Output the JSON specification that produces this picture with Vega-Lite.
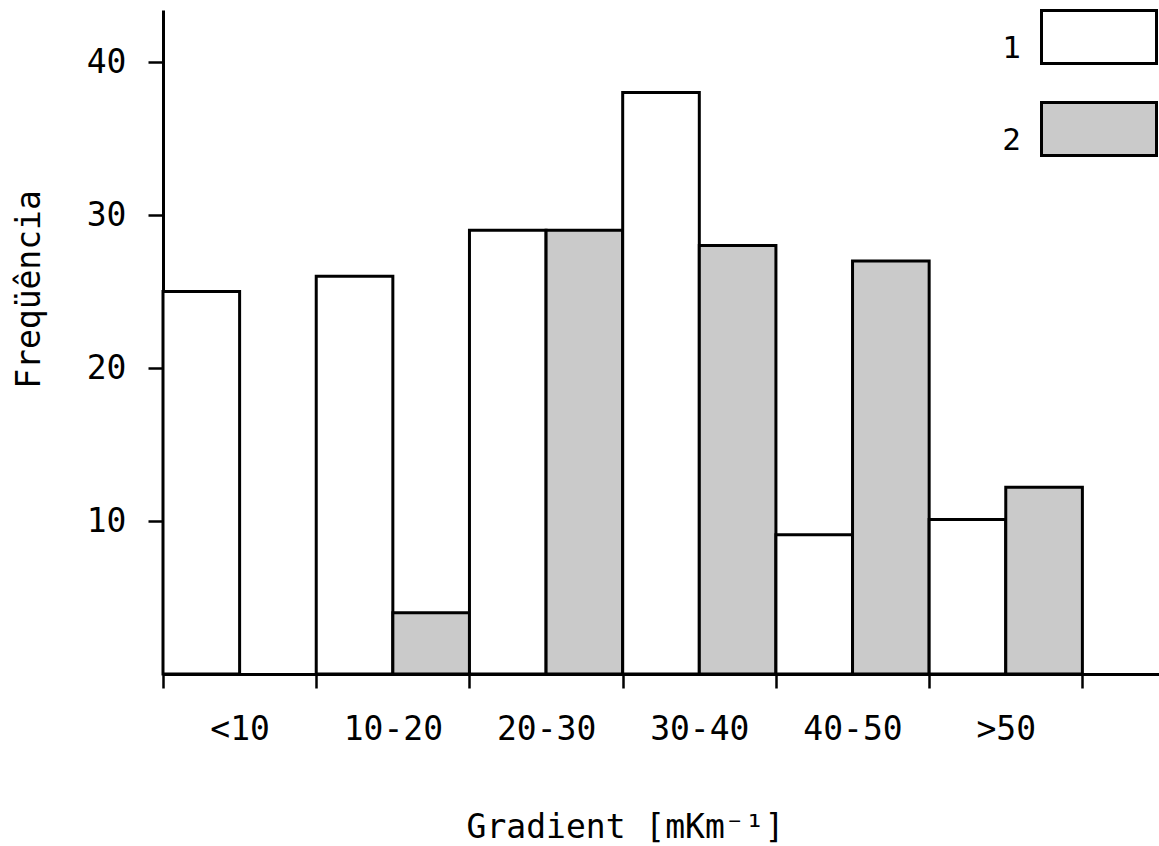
{
  "$schema": "https://vega.github.io/schema/vega-lite/v6.json",
  "width": 996,
  "height": 664,
  "autosize": {"type": "none"},
  "padding": {"left": 163, "top": 10, "right": 0, "bottom": 172},
  "background": "white",
  "config": {"view": {"stroke": null}, "font": "DejaVu Sans Mono"},
  "data": {
    "values": [
      {"gradient": "<10", "serie": "1", "freq": 25},
      {"gradient": "10-20", "serie": "1", "freq": 26},
      {"gradient": "10-20", "serie": "2", "freq": 4},
      {"gradient": "20-30", "serie": "1", "freq": 29},
      {"gradient": "20-30", "serie": "2", "freq": 29},
      {"gradient": "30-40", "serie": "1", "freq": 38},
      {"gradient": "30-40", "serie": "2", "freq": 28},
      {"gradient": "40-50", "serie": "1", "freq": 9.1},
      {"gradient": "40-50", "serie": "2", "freq": 27},
      {"gradient": ">50", "serie": "1", "freq": 10.1},
      {"gradient": ">50", "serie": "2", "freq": 12.2}
    ]
  },
  "mark": {"type": "bar", "stroke": "black", "strokeWidth": 3, "strokeJoin": "miter"},
  "encoding": {
    "x": {
      "field": "gradient",
      "type": "nominal",
      "sort": ["<10", "10-20", "20-30", "30-40", "40-50", ">50"],
      "scale": {"paddingInner": 0, "paddingOuter": 0.25, "align": 0},
      "axis": {
        "title": "Gradient [mKm⁻¹]",
        "labelAngle": 0,
        "tickBand": "extent",
        "domainColor": "black",
        "domainWidth": 3,
        "tickColor": "black",
        "tickWidth": 2.5,
        "tickSize": 14,
        "labelFont": "DejaVu Sans Mono",
        "labelFontSize": 33,
        "labelColor": "black",
        "labelPadding": 25,
        "labelOverlap": false,
        "labelBound": false,
        "titleFont": "DejaVu Sans Mono",
        "titleFontSize": 33,
        "titleFontWeight": "normal",
        "titleColor": "black",
        "titleX": 462,
        "titleY": 163,
        "titleAlign": "center",
        "titleBaseline": "alphabetic"
      }
    },
    "xOffset": {
      "field": "serie",
      "type": "nominal",
      "scale": {"domain": ["1", "2"], "paddingInner": 0, "paddingOuter": 0}
    },
    "y": {
      "field": "freq",
      "type": "quantitative",
      "scale": {"domain": [0, 43.4], "nice": false},
      "axis": {
        "title": "Freqüência",
        "values": [10, 20, 30, 40],
        "grid": false,
        "domainColor": "black",
        "domainWidth": 3,
        "tickColor": "black",
        "tickWidth": 2.5,
        "tickSize": 15,
        "labelFont": "DejaVu Sans Mono",
        "labelFontSize": 33,
        "labelColor": "black",
        "labelPadding": 22,
        "titleFont": "DejaVu Sans Mono",
        "titleFontSize": 33,
        "titleFontWeight": "normal",
        "titleColor": "black",
        "titleAngle": -90,
        "titleX": -124,
        "titleY": 279,
        "titleAlign": "center",
        "titleBaseline": "alphabetic"
      }
    },
    "fill": {
      "field": "serie",
      "type": "nominal",
      "scale": {"domain": ["1", "2"], "range": ["#ffffff", "#cacaca"]},
      "legend": {
        "orient": "none",
        "legendX": 877,
        "legendY": -32,
        "title": null,
        "padding": 0,
        "symbolType": "M-1,-0.46H1V0.46H-1Z",
        "symbolSize": 13225,
        "symbolStrokeColor": "black",
        "symbolStrokeWidth": 3,
        "labelAlign": "right",
        "labelOffset": -137,
        "labelFont": "DejaVu Sans Mono",
        "labelFontSize": 31,
        "labelColor": "black",
        "rowPadding": -23,
        "encode": {
          "symbols": {
            "update": {
              "stroke": {"value": "black"},
              "strokeWidth": {"value": 3},
              "opacity": {"value": 1}
            }
          },
          "labels": {
            "update": {
              "dy": {"value": 12}
            }
          }
        }
      }
    }
  }
}
